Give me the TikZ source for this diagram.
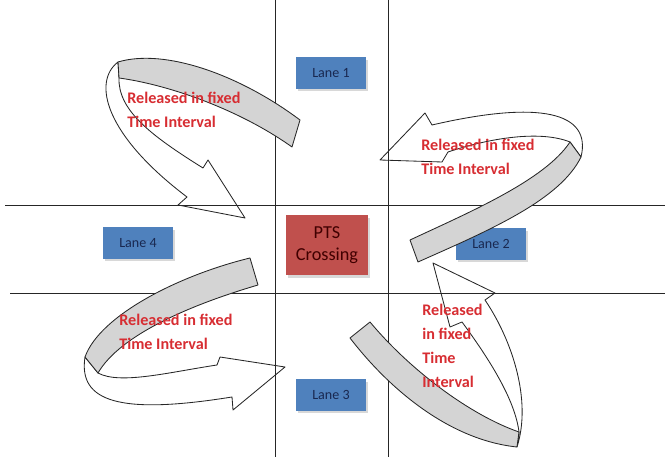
\documentclass[tikz,border=0pt]{standalone}
\usepackage{fontspec}
\setmainfont{Carlito}
\usetikzlibrary{shadows}

\definecolor{laneblue}{RGB}{79,129,189}
\definecolor{ptsred}{RGB}{192,80,77}
\definecolor{lanetext}{RGB}{25,40,80}
\definecolor{relred}{RGB}{215,45,50}
\definecolor{bandgray}{RGB}{212,212,212}

\begin{document}
\begin{tikzpicture}[
    x=0.025cm, y=-0.025cm,
    road/.style={line width=0.7pt, black!85},
    lane/.style={rectangle, fill=laneblue, minimum width=1.75cm, minimum height=0.78cm, text=lanetext, font=\fontsize{10}{12}\selectfont, drop shadow={shadow xshift=1.2pt, shadow yshift=-1.8pt, fill=black!30}},
    crossing/.style={rectangle, fill=ptsred, minimum width=2.05cm, minimum height=1.5cm, text=black!75!red, align=center, font=\fontsize{13}{15.5}\selectfont, drop shadow={shadow xshift=1.2pt, shadow yshift=-1.8pt, fill=black!30}},
    band/.style={draw=black!85, fill=bandgray, line width=0.6pt, line join=round},
    loop/.style={draw=black!85, line width=0.6pt, line join=round},
    release/.style={text=relred, align=left, inner sep=0pt, anchor=north west, font=\bfseries\fontsize{11.5}{17}\selectfont}
]
\useasboundingbox (0,0) rectangle (670,457);

% Roads
\draw[road] (275,0) -- (275,457);
\draw[road] (388,0) -- (388,457);
\draw[road] (5,205) -- (665,205);
\draw[road] (10,293) -- (665,293);

% Lane boxes
\node[lane] (lane1) at (331,73) {Lane 1};
\node[lane] (lane4) at (138,243) {Lane 4};
\node[lane] (lane2) at (491,244) {Lane 2};
\node[lane] (lane3) at (331,395) {Lane 3};
\node[crossing] (pts) at (327,245) {PTS\\Crossing};

% Top left turn
\draw[loop] (118,62) .. controls (92,82) and (105,135) .. (187,197) -- (178,205) -- (245,218)
    -- (208,160) -- (203,168) .. controls (150,135) and (118,110) .. (119,78) -- cycle;
\draw[band] (118,62) .. controls (165,48) and (240,75) .. (300,120) -- (292,147)
    .. controls (240,110) and (170,85) .. (119,78) -- cycle;

% Top right turn
\draw[loop] (581,157) .. controls (592,112) and (540,100) .. (432,125) -- (425,113) -- (380,160)
    -- (442,162) -- (448,152) .. controls (490,138) and (540,130) .. (570,142) -- cycle;
\draw[band] (410,240) .. controls (470,212) and (545,180) .. (570,142) -- (581,157)
    .. controls (560,200) and (490,230) .. (418,262) -- cycle;

% Bottom left turn
\draw[loop] (85,357) .. controls (78,402) and (120,415) .. (232,397) -- (233,410) -- (285,367)
    -- (220,357) -- (217,365) .. controls (170,372) and (120,385) .. (98,373) -- cycle;
\draw[band] (250,258) .. controls (180,275) and (100,315) .. (85,357) -- (98,373)
    .. controls (120,335) and (190,305) .. (258,285) -- cycle;

% Bottom right turn
\draw[loop] (517,447) .. controls (532,400) and (512,340) .. (485,300) -- (495,293) -- (433,263)
    -- (450,327) -- (462,322) .. controls (490,360) and (515,400) .. (519,432) -- cycle;
\draw[band] (350,338) .. controls (390,390) and (450,440) .. (517,447) -- (519,432)
    .. controls (470,415) and (410,370) .. (370,322) -- cycle;

% Labels
\node[release] (rel1) at (127,92) {Released in fixed\\Time Interval};
\node[release] (rel2) at (421,139) {Released in fixed\\Time Interval};
\node[release] (rel4) at (119,314) {Released in fixed\\Time Interval};
\node[release] (rel3) at (422,304) {Released\\in fixed\\Time\\Interval};

\end{tikzpicture}
\end{document}
